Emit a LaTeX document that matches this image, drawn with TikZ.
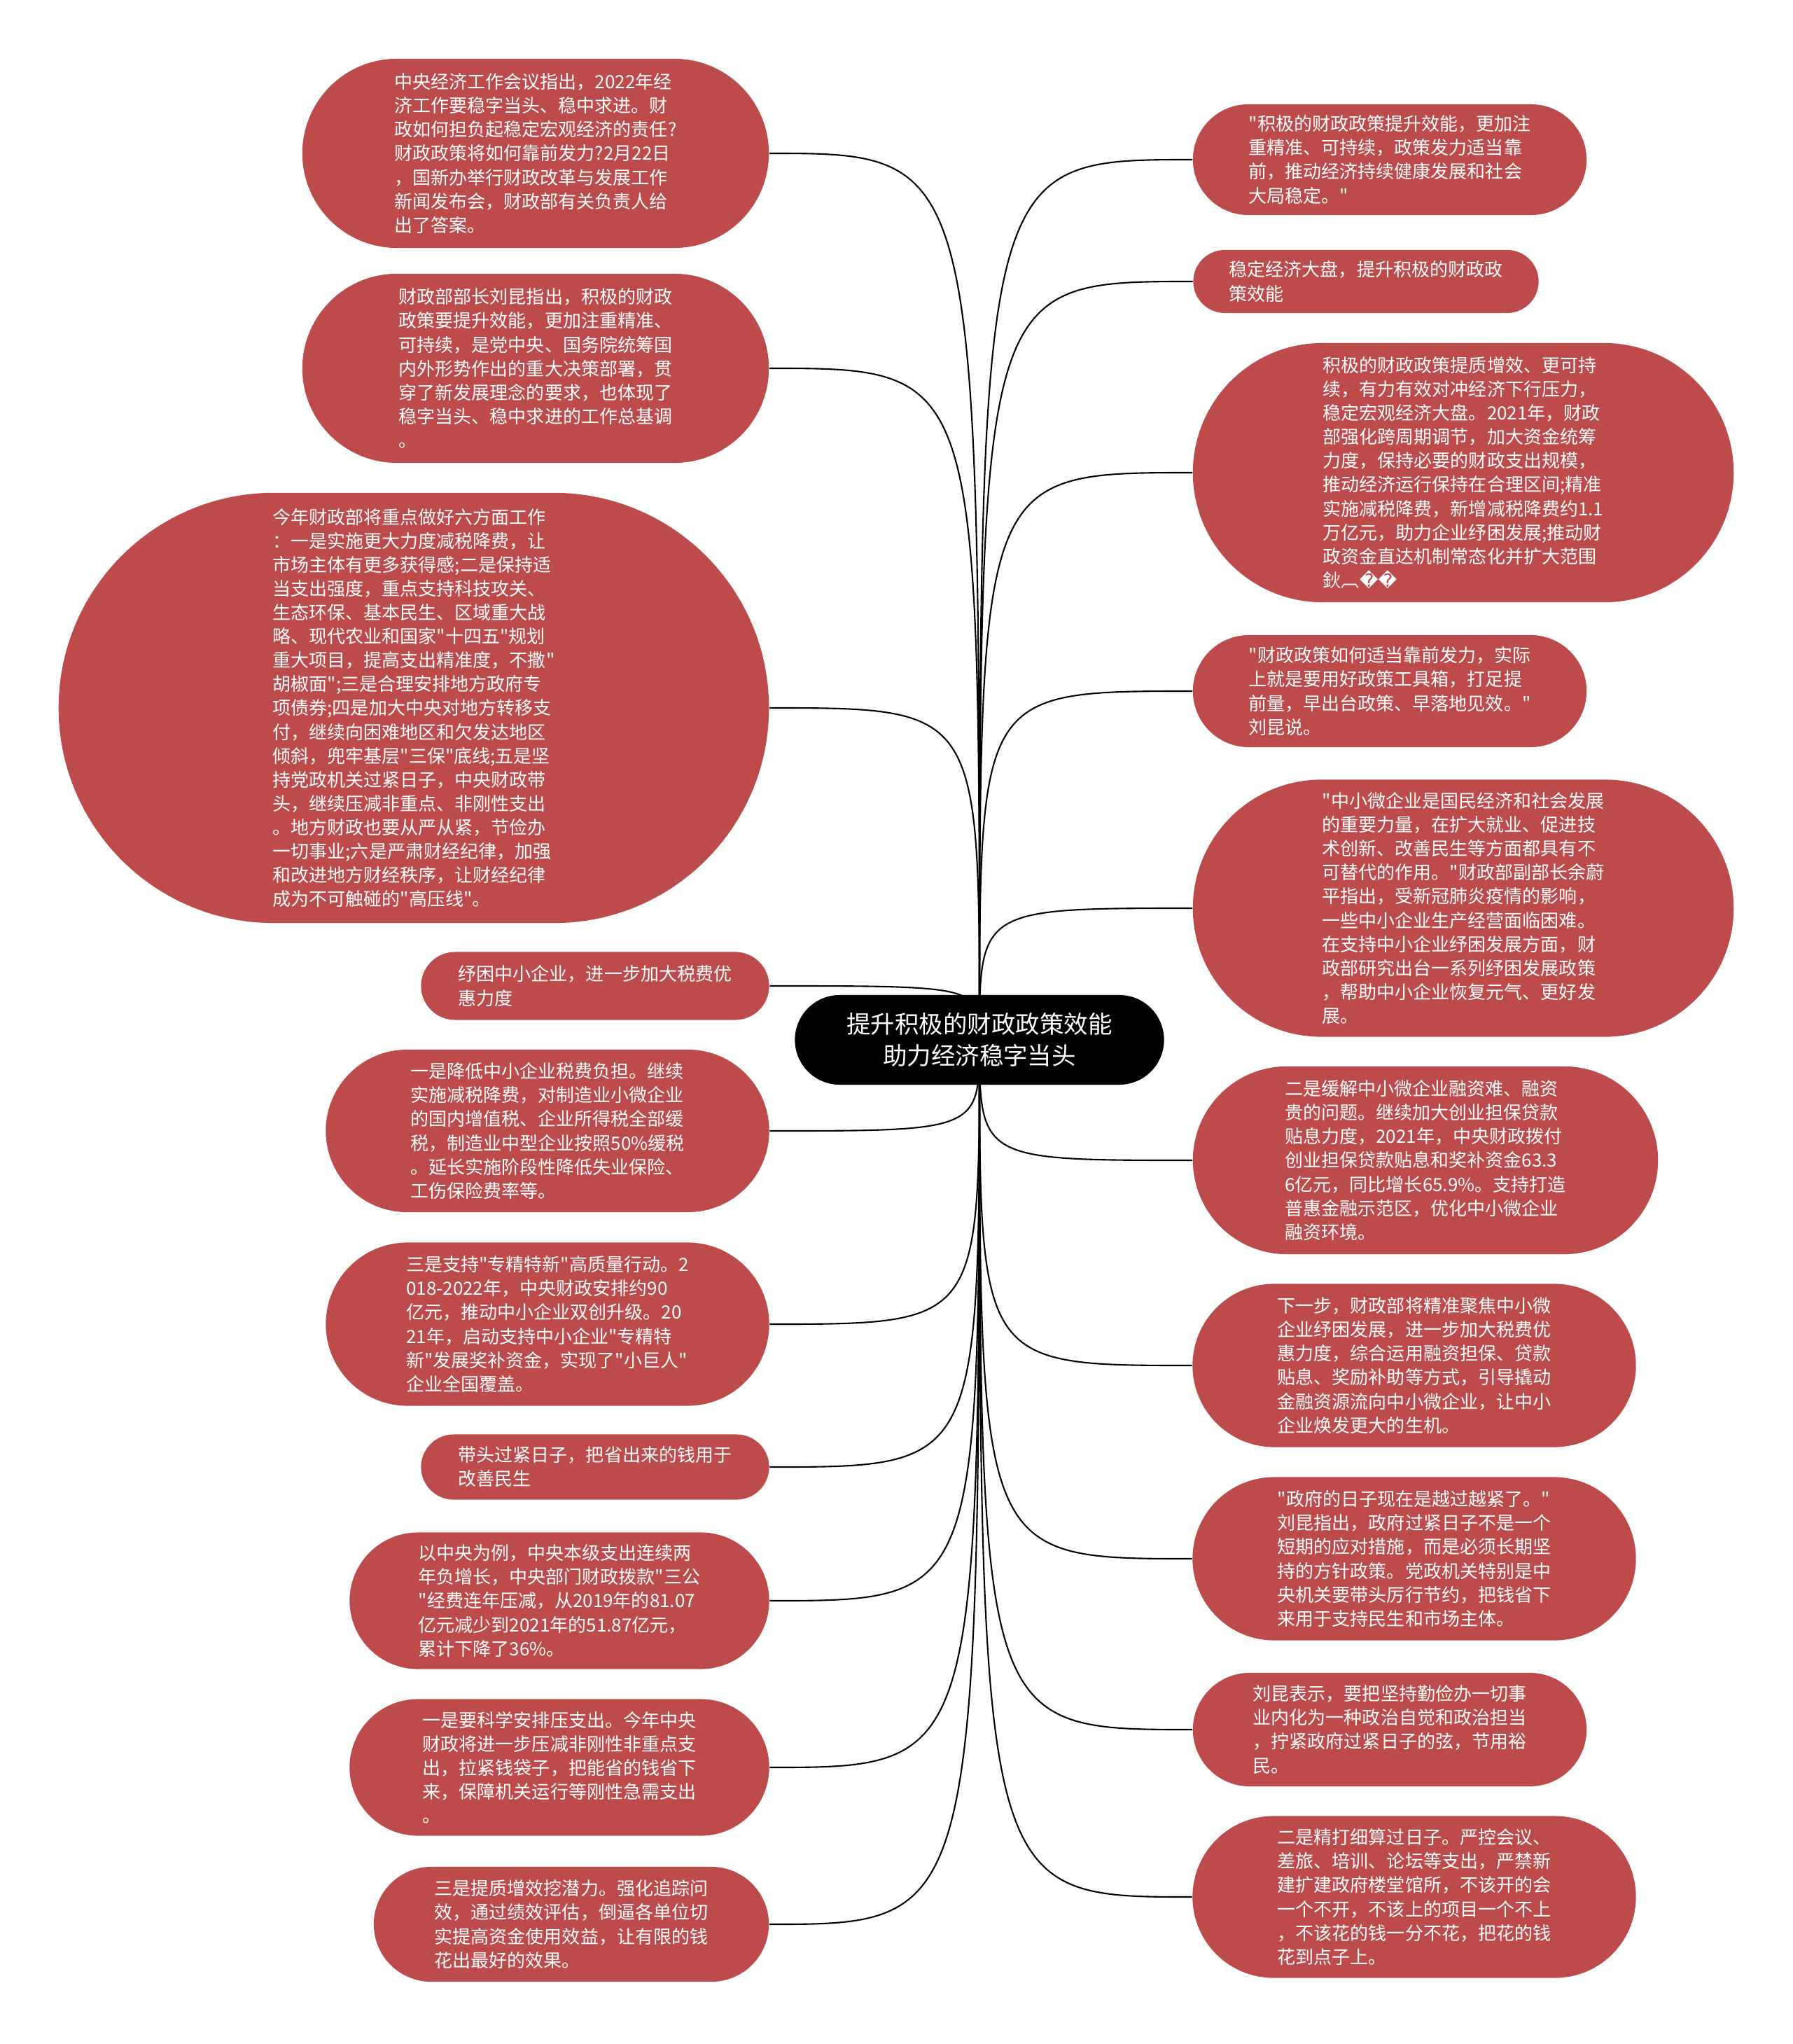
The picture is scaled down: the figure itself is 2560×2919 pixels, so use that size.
\documentclass[tikz,border=0pt]{standalone}
\usepackage{fontspec}
\setmainfont{Noto Sans CJK SC}[Ligatures=TeXOff]
\newfontfamily\symfont{DejaVu Sans}
\usepackage{xcolor}
\usetikzlibrary{shapes.misc, backgrounds}
\definecolor{leafred}{HTML}{BD4B4C}

\begin{document}
\begin{tikzpicture}[
				x=0.01cm, y=-0.01cm,
				leaf/.style={rounded rectangle, fill=leafred, text=white, align=left, inner sep=0pt, font=\fontsize{7.4pt}{9.7pt}\selectfont},
				topic/.style={rounded rectangle, fill=black, text=white, align=center, inner sep=0pt, font=\fontsize{9.8pt}{12.7pt}\selectfont},
				link/.style={line width=0.6pt, black}
				]
				\useasboundingbox (0,0) rectangle (2560,2919);
				\node[topic, minimum width=5.27cm, minimum height=1.28cm] (root) at (1399,1485) {提升积极的财政政策效能\\助力经济稳字当头};
				% left side
				\node[leaf, minimum width=6.66cm, minimum height=2.70cm] (l1) at (765,219) {中央经济工作会议指出，2022年经\\济工作要稳字当头、稳中求进。财\\政如何担负起稳定宏观经济的责任?\\财政政策将如何靠前发力?2月22日\\，国新办举行财政改革与发展工作\\新闻发布会，财政部有关负责人给\\出了答案。};
				\node[leaf, minimum width=6.66cm, minimum height=2.70cm] (l2) at (765,526) {财政部部长刘昆指出，积极的财政\\政策要提升效能，更加注重精准、\\可持续，是党中央、国务院统筹国\\内外形势作出的重大决策部署，贯\\穿了新发展理念的要求，也体现了\\稳字当头、稳中求进的工作总基调\\。};
				\node[leaf, minimum width=10.14cm, minimum height=6.14cm] (l3) at (591,1011) {今年财政部将重点做好六方面工作\\：一是实施更大力度减税降费，让\\市场主体有更多获得感;二是保持适\\当支出强度，重点支持科技攻关、\\生态环保、基本民生、区域重大战\\略、现代农业和国家"十四五"规划\\重大项目，提高支出精准度，不撒"\\胡椒面";三是合理安排地方政府专\\项债券;四是加大中央对地方转移支\\付，继续向困难地区和欠发达地区\\倾斜，兜牢基层"三保"底线;五是坚\\持党政机关过紧日子，中央财政带\\头，继续压减非重点、非刚性支出\\。地方财政也要从严从紧，节俭办\\一切事业;六是严肃财经纪律，加强\\和改进地方财经秩序，让财经纪律\\成为不可触碰的"高压线"。};
				\node[leaf, minimum width=4.97cm, minimum height=0.97cm] (l4) at (850,1408) {纾困中小企业，进一步加大税费优\\惠力度};
				\node[leaf, minimum width=6.33cm, minimum height=2.32cm] (l5) at (782,1615) {一是降低中小企业税费负担。继续\\实施减税降费，对制造业小微企业\\的国内增值税、企业所得税全部缓\\税，制造业中型企业按照50\%缓税\\。延长实施阶段性降低失业保险、\\工伤保险费率等。};
				\node[leaf, minimum width=6.33cm, minimum height=2.33cm] (l6) at (782,1891) {三是支持"专精特新"高质量行动。2\\018-2022年，中央财政安排约90\\亿元，推动中小企业双创升级。20\\21年，启动支持中小企业"专精特\\新"发展奖补资金，实现了"小巨人"\\企业全国覆盖。};
				\node[leaf, minimum width=4.97cm, minimum height=0.93cm] (l7) at (850,2095) {带头过紧日子，把省出来的钱用于\\改善民生};
				\node[leaf, minimum width=5.99cm, minimum height=1.95cm] (l8) at (799,2286) {以中央为例，中央本级支出连续两\\年负增长，中央部门财政拨款"三公\\"经费连年压减，从2019年的81.07\\亿元减少到2021年的51.87亿元，\\累计下降了36\%。};
				\node[leaf, minimum width=5.99cm, minimum height=1.95cm] (l9) at (799,2524) {一是要科学安排压支出。今年中央\\财政将进一步压减非刚性非重点支\\出，拉紧钱袋子，把能省的钱省下\\来，保障机关运行等刚性急需支出\\。};
				\node[leaf, minimum width=5.64cm, minimum height=1.64cm] (l10) at (816,2748) {三是提质增效挖潜力。强化追踪问\\效，通过绩效评估，倒逼各单位切\\实提高资金使用效益，让有限的钱\\花出最好的效果。};
				% right side
				\node[leaf, minimum width=5.62cm, minimum height=1.58cm] (r1) at (1985,228) {"积极的财政政策提升效能，更加注\\重精准、可持续，政策发力适当靠\\前，推动经济持续健康发展和社会\\大局稳定。"};
				\node[leaf, minimum width=4.93cm, minimum height=0.90cm] (r2) at (1951,402) {稳定经济大盘，提升积极的财政政\\策效能};
				\node[leaf, minimum width=7.72cm, minimum height=3.70cm] (r3) at (2090,675) {积极的财政政策提质增效、更可持\\续，有力有效对冲经济下行压力，\\稳定宏观经济大盘。2021年，财政\\部强化跨周期调节，加大资金统筹\\力度，保持必要的财政支出规模，\\推动经济运行保持在合理区间;精准\\实施减税降费，新增减税降费约1.1\\万亿元，助力企业纾困发展;推动财\\政资金直达机制常态化并扩大范围\\鈥︹{\symfont\char"FFFD\char"FFFD}};
				\node[leaf, minimum width=5.62cm, minimum height=1.60cm] (r4) at (1985,987) {"财政政策如何适当靠前发力，实际\\上就是要用好政策工具箱，打足提\\前量，早出台政策、早落地见效。"\\刘昆说。};
				\node[leaf, minimum width=7.72cm, minimum height=3.67cm] (r5) at (2090,1297) {"中小微企业是国民经济和社会发展\\的重要力量，在扩大就业、促进技\\术创新、改善民生等方面都具有不\\可替代的作用。"财政部副部长余蔚\\平指出，受新冠肺炎疫情的影响，\\一些中小企业生产经营面临困难。\\在支持中小企业纾困发展方面，财\\政部研究出台一系列纾困发展政策\\，帮助中小企业恢复元气、更好发\\展。};
				\node[leaf, minimum width=6.64cm, minimum height=2.68cm] (r6) at (2036,1657) {二是缓解中小微企业融资难、融资\\贵的问题。继续加大创业担保贷款\\贴息力度，2021年，中央财政拨付\\创业担保贷款贴息和奖补资金63.3\\6亿元，同比增长65.9\%。支持打造\\普惠金融示范区，优化中小微企业\\融资环境。};
				\node[leaf, minimum width=6.33cm, minimum height=2.33cm] (r7) at (2020,1950) {下一步，财政部将精准聚焦中小微\\企业纾困发展，进一步加大税费优\\惠力度，综合运用融资担保、贷款\\贴息、奖励补助等方式，引导撬动\\金融资源流向中小微企业，让中小\\企业焕发更大的生机。};
				\node[leaf, minimum width=6.33cm, minimum height=2.33cm] (r8) at (2020,2226) {"政府的日子现在是越过越紧了。"\\刘昆指出，政府过紧日子不是一个\\短期的应对措施，而是必须长期坚\\持的方针政策。党政机关特别是中\\央机关要带头厉行节约，把钱省下\\来用于支持民生和市场主体。};
				\node[leaf, minimum width=5.62cm, minimum height=1.62cm] (r9) at (1985,2470) {刘昆表示，要把坚持勤俭办一切事\\业内化为一种政治自觉和政治担当\\，拧紧政府过紧日子的弦，节用裕\\民。};
				\node[leaf, minimum width=6.33cm, minimum height=2.31cm] (r10) at (2020,2709) {二是精打细算过日子。严控会议、\\差旅、培训、论坛等支出，严禁新\\建扩建政府楼堂馆所，不该开的会\\一个不开，不该上的项目一个不上\\，不该花的钱一分不花，把花的钱\\花到点子上。};
				% branches
				\begin{scope}[on background layer]
					\fill[white] (0,0) rectangle (2560,2919);
					\foreach \i in {1,...,10} {
						\draw[link] (root.center) .. controls (root.center |- l\i.east) .. (l\i.east);
						\draw[link] (root.center) .. controls (root.center |- r\i.west) .. (r\i.west);
					}
				\end{scope}
			\end{tikzpicture}
\end{document}
